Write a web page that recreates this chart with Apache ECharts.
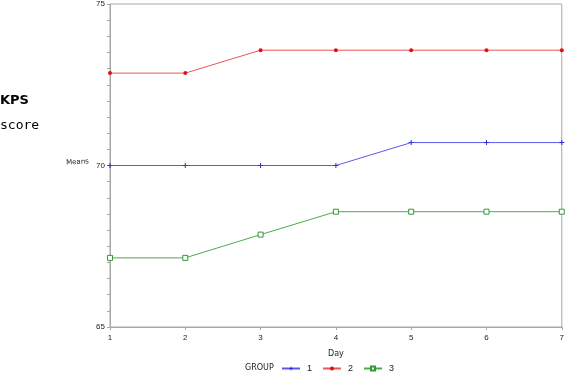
<!DOCTYPE html>
<html>
<head>
<meta charset="utf-8">
<script src="https://cdn.jsdelivr.net/npm/echarts@6/dist/echarts.min.js"></script>
<style>
  html, body { margin: 0; padding: 0; background: #fff; }
  #chart { width: 567px; height: 373px; }
</style>
</head>
<body>
<div id="chart"></div>
<script>
// days on the x axis
const days = [1, 2, 3, 4, 5, 6, 7];
// mean KPS score per group
const group1 = [70.0, 70.0, 70.0, 70.0, 70.71, 70.71, 70.71];
const group2 = [72.86, 72.86, 73.57, 73.57, 73.57, 73.57, 73.57];
const group3 = [67.14, 67.14, 67.86, 68.57, 68.57, 68.57, 68.57];
const yLabels = [65, 70, 75];

const toPairs = (vals) => vals.map((v, i) => [days[i], v]);

const plus = 'path://M4,0h2v4h4v2h-4v4h-2v-4h-4v-2h4z';

const chart = echarts.init(document.getElementById('chart'));

chart.setOption({
  animation: false,
  grid: {
    left: 110,
    right: 1,
    top: 3,
    bottom: 46,
    show: true,
    borderColor: '#a8a8a8',
    borderWidth: 1,
  },
  xAxis: {
    type: 'value',
    min: 1,
    max: 7,
    interval: 1,
    name: 'Day',
    nameLocation: 'middle',
    nameGap: 23,
    nameTextStyle: { fontSize: 8, color: '#222', fontFamily: 'DejaVu Sans' },
    axisLine: { lineStyle: { color: '#a8a8a8' } },
    axisTick: { length: 3, lineStyle: { color: '#a8a8a8' } },
    axisLabel: { fontSize: 8, color: '#222', margin: 7 },
    splitLine: { show: false },
  },
  yAxis: {
    type: 'value',
    min: 65,
    max: 75,
    interval: 0.5,
    axisLine: { show: true, lineStyle: { color: '#a8a8a8' } },
    axisTick: { show: true, length: 3, lineStyle: { color: '#a8a8a8' } },
    axisLabel: {
      fontSize: 8,
      color: '#222',
      margin: 5,
      formatter: (v) => (yLabels.includes(v) ? String(v) : ''),
    },
    splitLine: { show: false },
  },
  legend: {
    left: 281,
    top: 364,
    itemWidth: 18,
    itemHeight: 5,
    itemGap: 10,
    textStyle: { fontSize: 9, color: '#222', padding: [0, 0, 0, 2] },
    padding: 0,
    data: ['1', '2', '3'],
  },
  graphic: [
    {
      type: 'text', left: 0, top: 94,
      style: { text: 'KPS', font: 'bold 13px "DejaVu Sans"', fill: '#000' },
    },
    {
      type: 'text', left: 0, top: 119,
      style: { text: 'score', font: '13px "DejaVu Sans Mono"', fill: '#000' },
    },
    {
      type: 'text', left: 66, top: 158, rotation: 0.05,
      style: { text: 'Means', font: '7px "DejaVu Sans"', fill: '#222' },
    },
    {
      type: 'text', left: 245, top: 364,
      style: { text: 'GROUP', font: '8px "DejaVu Sans"', fill: '#222' },
    },
  ],
  series: [
    {
      name: '1',
      type: 'line',
      data: toPairs(group1),
      symbol: plus,
      symbolSize: 5,
      color: '#2b2bdd',
      lineStyle: { width: 1, color: '#5a5aee' },
    },
    {
      name: '2',
      type: 'line',
      data: toPairs(group2),
      symbol: 'circle',
      symbolSize: 4,
      color: '#dd1111',
      itemStyle: { borderWidth: 0 },
      lineStyle: { width: 1, color: '#ee5555' },
    },
    {
      name: '3',
      type: 'line',
      data: toPairs(group3),
      symbol: 'rect',
      symbolSize: 5,
      color: '#339933',
      itemStyle: { color: '#fff', borderColor: '#339933', borderWidth: 1 },
      lineStyle: { width: 1, color: '#4caa4c' },
    },
  ],
});
</script>
</body>
</html>
